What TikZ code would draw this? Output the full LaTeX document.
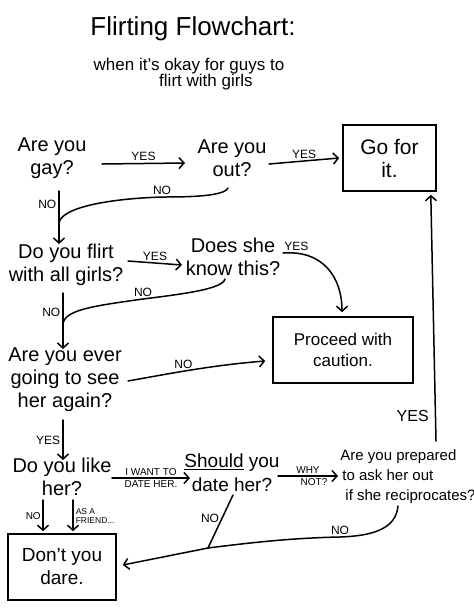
\documentclass[tikz,border=0pt]{standalone}
\usepackage{fontspec}
\setmainfont{Liberation Sans}
\usetikzlibrary{arrows.meta,calc}
\begin{document}
\begin{tikzpicture}[x=1pt,y=-1pt,
  q/.style={font=\fontsize{20}{23}\selectfont, align=center, inner sep=0pt},
  boxnode/.style={draw, line width=1.6pt, align=center, inner sep=0pt},
  lbl/.style={font=\fontsize{12}{13}\selectfont, inner sep=2pt},
  tiny/.style={font=\fontsize{10}{11}\selectfont, inner sep=1.5pt},
  ln/.style={line width=1.5pt, line cap=round},
  arr/.style={ln, -{Straight Barb[length=5pt,width=11pt,line width=1.5pt]}}]
\useasboundingbox (0,0) rectangle (474,614);
\fill[white] (0,0) rectangle (474,614);
% titles
\node[font=\fontsize{26}{28}\selectfont, inner sep=0pt] (title) at (193,29) {Flirting Flowchart:};
\node[font=\fontsize{17}{18}\selectfont, inner sep=0pt] (sub1) at (189,66) {when it's okay for guys to};
\node[font=\fontsize{17}{18}\selectfont, inner sep=0pt] (sub2) at (206,82) {flirt with girls};
% nodes
\node[q] (gay) at (52,158) {Are you\\gay?};
\node[q] (out) at (232,158) {Are you\\out?};
\node[boxnode, minimum width=93pt, minimum height=66pt, font=\fontsize{21}{23}\selectfont] (go) at (389.5,158) {Go for\\it.};
\node[q] (flirt) at (66,265) {Do you flirt\\with all girls?};
\node[q] (know) at (233,257) {Does she\\know this?};
\node[boxnode, minimum width=140pt, minimum height=66pt, font=\fontsize{17}{21}\selectfont] (proc) at (343,350) {Proceed with\\caution.};
\node[q] (ever) at (65,380) {Are you ever\\going to see\\her again?};
\node[q] (like) at (62,477) {Do you like\\her?};
\node[q, font=\fontsize{19}{24}\selectfont] (should) at (232,473) {\underline{Should} you\\date her?};
\node[q, font=\fontsize{15}{20}\selectfont, align=left] (prep) at (408,477) {Are you prepared\\\hspace{2pt}to ask her out\\\hspace{5pt}if she reciprocates?};
\node[boxnode, minimum width=108pt, minimum height=66pt, font=\fontsize{19}{23}\selectfont] (dare) at (62,567) {Don't you\\dare.};
% junctions
\coordinate (j1) at ($(gay)+(7,66)$);
\coordinate (j2) at ($(flirt)+(-3,60)$);
\coordinate (j3) at ($(should)+(-24,75)$);
% connectors
\draw[arr] ($(gay)+(50,6)$) -- node[lbl,above]{YES} ($(out)+(-47,5)$);
\draw[arr] ($(out)+(37,6)$) -- node[lbl,above]{YES} ($(go.west)+(-3,0)$);
\draw[arr] ($(gay)+(7,33)$) -- node[lbl,left,pos=0.25]{NO} ($(flirt)+(-7,-21)$);
\draw[ln] ($(out)+(-4,30)$) .. controls +(-4,9) and +(20,0) .. ($(out)+(-70,39)$) node[lbl,above]{NO}
  .. controls +(-60,2) and +(0,-15) .. (j1);
\draw[arr] ($(flirt)+(62,-4)$) -- node[lbl,above]{YES} ($(know)+(-51,8)$);
\draw[arr] ($(know)+(50,-4)$) .. controls +(40,-3) and +(0,-35) .. ($(proc.north)+(-1,-4)$) node[lbl,pos=0.12,above]{YES};
\draw[arr] ($(flirt)+(-3,28)$) -- node[lbl,left,pos=0.35]{NO} ($(ever)+(-2,-31)$);
\draw[ln] ($(know)+(-8,22)$) .. controls +(-2,10) and +(40,-5) .. ($(know)+(-90,42)$) node[lbl,above]{NO}
  .. controls +(-50,7) and +(0,-15) .. (j2);
\draw[arr] ($(ever)+(63,1)$) .. controls +(50,-9) and +(-50,4) .. ($(proc.west)+(-7,11)$) node[lbl,pos=0.4,above]{NO};
\draw[arr] ($(ever)+(-2,40)$) -- node[lbl,left]{YES} ($(like)+(1,-17)$);
\draw[arr] ($(like)+(50,1)$) -- node[tiny,above]{I WANT TO} node[tiny,below]{DATE HER.} ($(should)+(-42,5)$);
\draw[arr] ($(should)+(46,3)$) -- node[tiny,above]{WHY} node[tiny,below,xshift=6pt]{NOT?} ($(prep)+(-70,-1)$);
\draw[arr] ($(prep)+(28,-36)$) -- node[font=\fontsize{16}{17}\selectfont,left,pos=0.1,inner sep=6pt]{YES} ($(go.south east)+(-6,3)$);
\draw[arr] ($(like)+(-19,23)$) -- node[tiny,left]{NO} ($(dare.north)+(-19,-2)$);
\draw[arr] ($(like)+(11,23)$) -- node[font=\fontsize{8.5}{9}\selectfont,right,align=left,inner sep=2pt]{AS A\\FRIEND...} ($(dare.north)+(11,-2)$);
\draw[ln] ($(should)+(1,22)$) -- node[lbl,left,pos=0.45]{NO} (j3);
\draw[ln] ($(prep)+(-10,29)$) .. controls +(-2,24) and +(30,-1) .. ($(prep)+(-68,60)$) node[lbl,above]{NO}
  .. controls +(-50,1) and +(40,-5) .. (j3);
\draw[arr] (j3) -- ($(dare.east)+(6,-2)$);
\end{tikzpicture}
\end{document}
